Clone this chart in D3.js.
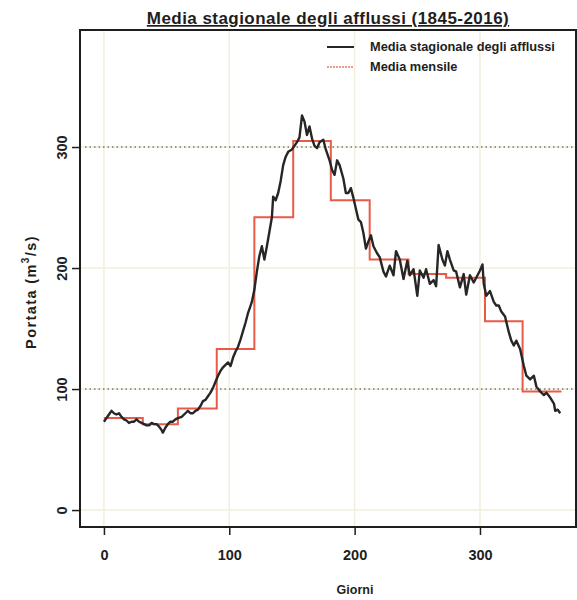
<!DOCTYPE html>
<html>
<head>
<meta charset="utf-8">
<script src="https://cdn.jsdelivr.net/npm/d3@7"></script>
<style>
  html, body { margin: 0; padding: 0; background: #fff; }
  svg { display: block; }
  text { font-family: "Liberation Sans", Arial, Helvetica, sans-serif; fill: #1e1e1e; }
</style>
</head>
<body>
<svg id="chart" width="577" height="600"></svg>
<script>
// ---- data ----
const days = [0,2,4,6,8,10,12,14,16,18,20,22,24,26,28,30,32,34,36,38,40,42,44,46,47,49,51,53,55,57,59,
  62,65,67,69,71,73,75,77,79,81,83,85,87,89,91,93,95,97,99,101,103,105,107,109,111,113,115,117,118,
  120,122,124,126,128,130,132,134,135,137,139,141,143,145,147,150,152,154,156,158,160,162,164,166,168,170,
  172,175,177,180,182,184,186,188,191,193,195,197,199,201,203,205,207,209,211,213,215,218,220,223,225,228,
  231,233,236,239,242,244,247,250,252,255,257,260,263,265,267,270,272,274,276,279,281,284,287,289,292,295,
  297,300,302,303,305,308,311,313,315,317,320,323,325,327,329,332,335,337,340,343,345,348,351,353,356,359,
  360,362,364];
const flow = [73,76,79,82,80,79,80,77,75,74,72,73,73,75,73,72,71,70,70,72,71,71,69,66,64,68,71,73,73,75,76,
  77,80,82,80,80,82,83,86,90,91,94,97,101,106,111,115,118,120,122,119,126,131,135,141,148,155,163,169,172,
  182,197,210,218,207,218,230,242,259,256,262,272,285,292,296,298,301,304,308,326,321,310,317,307,301,299,
  304,306,298,289,281,277,289,285,274,262,262,266,258,249,240,238,229,216,222,227,218,212,209,197,193,202,
  194,214,207,191,206,194,199,177,198,192,199,187,190,185,219,207,202,214,207,198,197,184,195,178,194,188,
  192,198,203,187,177,181,172,169,169,164,160,147,140,136,140,133,119,111,108,111,102,98,95,97,93,88,
  82,83,80];
const monthStart = [0,31,59,90,120,151,181,212,243,273,304,334,365];
const monthMean  = [76,71,84,133,242,305,256,207,195,192,156,98];
const xTicks = [0,100,200,300];
const yTicks = [0,100,200,300];
const titleText = "Media stagionale degli afflussi (1845-2016)";
const legendLabels = ["Media stagionale degli afflussi", "Media mensile"];

// ---- layout ----
const box = {left: 80, top: 30, right: 576, bottom: 527};
const svg = d3.select("#chart");
const x = d3.scaleLinear().domain([-19.1, 376.6]).range([box.left, box.right]);
const y = d3.scaleLinear().domain([-14, 396.7]).range([box.bottom, box.top]);

// light grid
const grid = svg.append("g");
grid.selectAll("line.v").data(xTicks).join("line")
  .attr("x1", d => x(d)).attr("x2", d => x(d))
  .attr("y1", box.top).attr("y2", box.bottom)
  .attr("stroke", "#f3efdd").attr("stroke-width", 1.5);
grid.selectAll("line.h").data(yTicks).join("line")
  .attr("x1", box.left).attr("x2", box.right)
  .attr("y1", d => y(d)).attr("y2", d => y(d))
  .attr("stroke", "#f3efdd").attr("stroke-width", 1.5);
grid.selectAll("line.hd").data([100, 300]).join("line")
  .attr("x1", box.left + 5).attr("x2", box.right)
  .attr("y1", d => y(d)).attr("y2", d => y(d))
  .attr("stroke", "#3a3a3a").attr("stroke-width", 1)
  .attr("stroke-dasharray", "1.5,3");

// monthly step line
const stepData = monthMean.map((v, i) => [monthStart[i], v]);
stepData.push([monthStart[12], monthMean[11]]);
svg.append("path")
  .datum(stepData)
  .attr("fill", "none")
  .attr("stroke", "#ea5a48")
  .attr("stroke-width", 2)
  .attr("d", d3.line().x(d => x(d[0])).y(d => y(d[1])).curve(d3.curveStepAfter));

// daily seasonal mean line
svg.append("path")
  .datum(days.map((d, i) => [d, flow[i]]))
  .attr("fill", "none")
  .attr("stroke", "#262626")
  .attr("stroke-width", 2.4)
  .attr("stroke-linejoin", "round")
  .attr("d", d3.line().x(d => x(d[0])).y(d => y(d[1])));

// box
svg.append("rect")
  .attr("x", box.left).attr("y", box.top)
  .attr("width", box.right - box.left).attr("height", box.bottom - box.top)
  .attr("fill", "none").attr("stroke", "#1e1e1e").attr("stroke-width", 2);

// x axis
const xAxis = svg.append("g")
  .attr("transform", `translate(0,${box.bottom})`)
  .call(d3.axisBottom(x).tickValues(xTicks).tickSize(8).tickPadding(15).tickFormat(d3.format("d")));
xAxis.select(".domain").remove();
xAxis.selectAll("line").attr("stroke", "#1e1e1e").attr("stroke-width", 1.5);
xAxis.selectAll("text").attr("font-size", 14.5).attr("font-weight", "bold")
  .attr("font-family", "'Liberation Sans', Arial, sans-serif").attr("fill", "#1e1e1e");

// y axis
const yAxis = svg.append("g")
  .attr("transform", `translate(${box.left},0)`)
  .call(d3.axisLeft(y).tickValues(yTicks).tickSize(8).tickPadding(0).tickFormat(d3.format("d")));
yAxis.select(".domain").remove();
yAxis.selectAll("line").attr("stroke", "#1e1e1e").attr("stroke-width", 1.5);
yAxis.selectAll("text")
  .attr("font-size", 14.5).attr("font-weight", "bold")
  .attr("font-family", "'Liberation Sans', Arial, sans-serif").attr("fill", "#1e1e1e")
  .attr("text-anchor", "middle").attr("dy", null).attr("x", null)
  .attr("transform", "translate(-18,0) rotate(-90)")
  .attr("dominant-baseline", "central");

// title
svg.append("text")
  .attr("x", 328).attr("y", 24)
  .attr("text-anchor", "middle")
  .attr("font-size", 17).attr("font-weight", "bold")
  .attr("letter-spacing", 0.45)
  .attr("text-decoration", "underline")
  .text(titleText);

// axis titles
svg.append("text")
  .attr("x", 355).attr("y", 594)
  .attr("text-anchor", "middle")
  .attr("font-size", 12.5).attr("font-weight", "bold")
  .attr("fill", "#333")
  .text("Giorni");

const yl = svg.append("text")
  .attr("transform", "translate(36,292) rotate(-90)")
  .attr("text-anchor", "middle")
  .attr("font-size", 14.5).attr("font-weight", "bold")
  .attr("letter-spacing", 1.4);
yl.append("tspan").text("Portata (m");
yl.append("tspan").attr("font-size", 10).attr("dy", -7).text("3");
yl.append("tspan").attr("dy", 7).text("/s)");

// legend
const lg = svg.append("g");
lg.append("line").attr("x1", 327).attr("x2", 354).attr("y1", 47).attr("y2", 47)
  .attr("stroke", "#262626").attr("stroke-width", 2);
lg.append("line").attr("x1", 327).attr("x2", 354).attr("y1", 67).attr("y2", 67)
  .attr("stroke", "#ea7a6a").attr("stroke-width", 1.5).attr("stroke-dasharray", "2,1");
lg.selectAll("text").data(legendLabels).join("text")
  .attr("x", 370).attr("y", (d, i) => 46 + i * 20)
  .attr("dominant-baseline", "central")
  .attr("font-size", 12.8).attr("font-weight", "bold")
  .text(d => d);
</script>
</body>
</html>
